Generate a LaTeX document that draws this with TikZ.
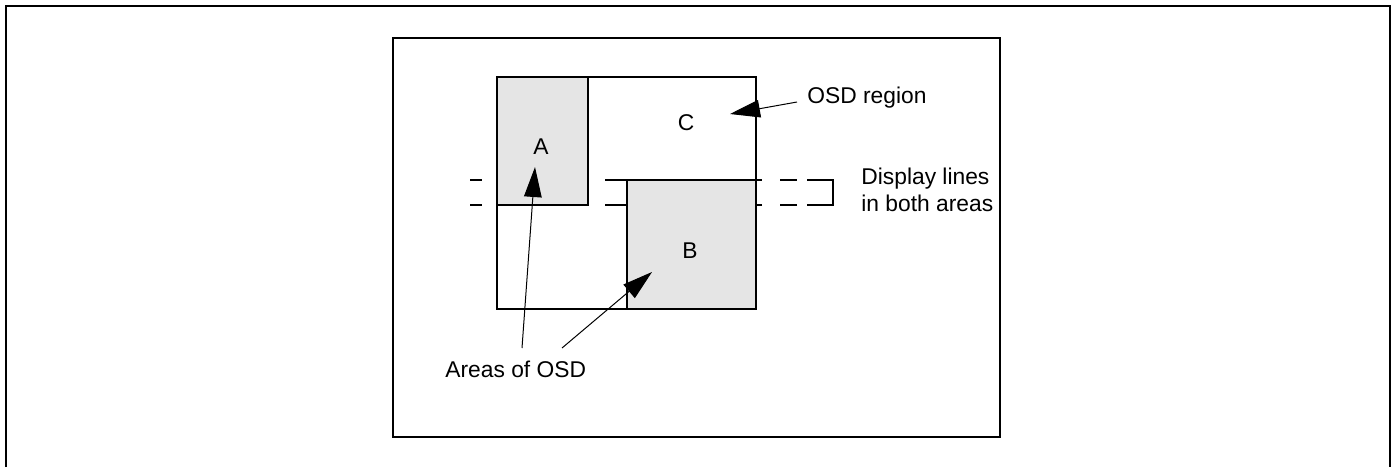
\documentclass[tikz,border=0pt]{standalone}
\usepackage{fontspec}
\setmainfont{Liberation Sans}
\usetikzlibrary{arrows.meta}
\begin{document}
\begin{tikzpicture}[x=0.5pt,y=-0.5pt,
  frame/.style={line width=1pt},
  osdbox/.style={line width=1pt,fill=black!10},
  lbl/.style={font=\fontsize{11.4}{13.5}\selectfont,inner sep=0pt},
  pointer/.style={line width=0.5pt,-{Triangle[length=15pt,width=8.8pt]}},
  dl/.style={line width=1pt}]
\useasboundingbox (0,0) rectangle (1396,467);
% outer frame (open at bottom)
\draw[frame] (6,467) -- (6,6) -- (1390,6) -- (1390,467);
% inner frame
\draw[frame] (393,38) rectangle (1000,437);
% OSD region
\draw[frame,fill=white] (497,77) rectangle (756,309);
\draw[osdbox] (497,77) rectangle (588,205);
\draw[osdbox] (627,180) rectangle (756,309);
% display lines
\draw[dl] (470,180) -- (482,180);
\draw[dl] (470,205) -- (482,205);
\draw[dl] (605,180) -- (627,180);
\draw[dl] (605,205) -- (627,205);
\draw[dl] (756,180) -- (762,180) (780,180) -- (797,180) (807,180) -- (833,180) -- (833,205) -- (807,205) (797,205) -- (780,205) (762,205) -- (756,205);
% labels
\node[lbl] (la) at (541,147) {A};
\node[lbl] (lb) at (690,251) {B};
\node[lbl] (lc) at (686,123) {C};
\node[lbl,anchor=west] (osd) at (807,98) {OSD region};
\node[lbl,anchor=west,align=left] (disp) at (861,190) {Display lines\\in both areas};
\node[lbl,anchor=west] (areas) at (445,369) {Areas of OSD};
% arrow endpoints
\coordinate (osdstart) at (797,102);
\coordinate (osdtip) at (730,114);
\coordinate (astart) at (522,348);
\coordinate (atip) at (535,167);
\coordinate (bstart) at (562,348);
\coordinate (btip) at (652,272);
\draw[pointer] (osdstart) -- (osdtip);
\draw[pointer] (astart) -- (atip);
\draw[pointer] (bstart) -- (btip);
\end{tikzpicture}
\end{document}
